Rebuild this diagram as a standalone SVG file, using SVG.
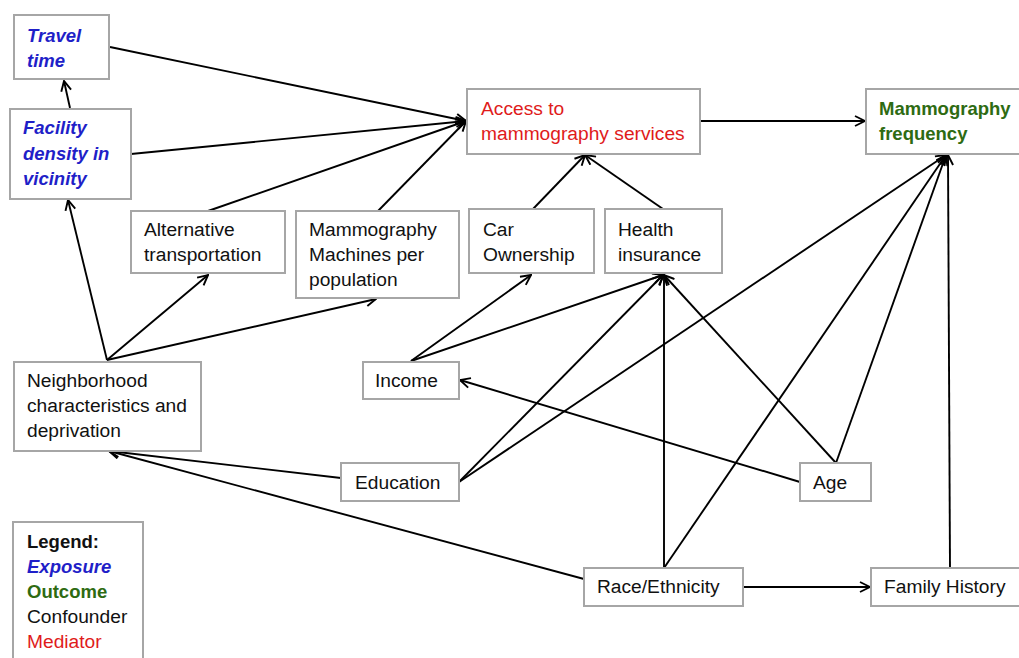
<svg xmlns="http://www.w3.org/2000/svg" width="1019" height="658" viewBox="0 0 1019 658">
<style>
.box{fill:#fff;stroke:#a6a6a6;stroke-width:2}
text{font-family:"Liberation Sans",Arial,sans-serif;font-size:19.2px;fill:#111}
.exp{fill:#1f1fc8;font-weight:bold;font-style:italic;font-size:18.5px}
.out{fill:#2e6b12;font-weight:bold;font-size:18.5px}
.med{fill:#e01b1b}
.lg{font-weight:bold;font-size:18.5px}
#edges line{stroke:#000;stroke-width:1.9;marker-end:url(#ah)}
</style>
<defs>
<marker id="ah" viewBox="0 0 12 12" refX="11" refY="6" markerWidth="12" markerHeight="12" markerUnits="userSpaceOnUse" orient="auto">
<path d="M1,1 L11,6 L1,11" fill="none" stroke="#000" stroke-width="1.9"/>
</marker>
</defs>
<rect width="1019" height="658" fill="#fff"/>
<g id="edges">
<line x1="70" y1="108" x2="64" y2="81"/>
<line x1="107" y1="360" x2="68" y2="200"/>
<line x1="110" y1="47" x2="466" y2="121"/>
<line x1="131" y1="154" x2="466" y2="121"/>
<line x1="208" y1="211" x2="466" y2="121"/>
<line x1="378" y1="211" x2="466" y2="121"/>
<line x1="107" y1="360" x2="208" y2="275"/>
<line x1="107" y1="360" x2="376" y2="299"/>
<line x1="533" y1="209" x2="585" y2="155"/>
<line x1="663" y1="209" x2="585" y2="155"/>
<line x1="700" y1="121" x2="865" y2="121"/>
<line x1="411" y1="361" x2="531" y2="275"/>
<line x1="411" y1="361" x2="663" y2="275"/>
<line x1="459" y1="482" x2="663" y2="275"/>
<line x1="459" y1="482" x2="946" y2="155"/>
<line x1="664" y1="568" x2="664" y2="275"/>
<line x1="664" y1="568" x2="946" y2="155"/>
<line x1="836" y1="463" x2="664" y2="275"/>
<line x1="836" y1="463" x2="946" y2="155"/>
<line x1="800" y1="482" x2="460" y2="380"/>
<line x1="584" y1="579" x2="109" y2="451"/>
<line x1="341" y1="478" x2="109" y2="451"/>
<line x1="743" y1="587" x2="870" y2="587"/>
<line x1="950" y1="568" x2="948" y2="155"/>
</g>
<g id="travel"><rect class="box" x="14" y="15" width="95" height="64"/><text class="exp" x="27" y="42">Travel</text><text class="exp" x="27" y="67">time</text></g>
<g id="facility"><rect class="box" x="10" y="109" width="121" height="90"/><text class="exp" x="23" y="134">Facility</text><text class="exp" x="23" y="160">density in</text><text class="exp" x="23" y="185">vicinity</text></g>
<g id="access"><rect class="box" x="467" y="89" width="233" height="65"/><text class="med" x="481" y="115">Access to</text><text class="med" x="481" y="140">mammography services</text></g>
<g id="freq"><rect class="box" x="866" y="89" width="160" height="65"/><text class="out" x="879" y="115">Mammography</text><text class="out" x="879" y="140">frequency</text></g>
<g id="alt"><rect class="box" x="131" y="211" width="154" height="62"/><text x="144" y="236">Alternative</text><text x="144" y="261">transportation</text></g>
<g id="machines"><rect class="box" x="296" y="211" width="163" height="87"/><text x="309" y="236">Mammography</text><text x="309" y="261">Machines per</text><text x="309" y="286">population</text></g>
<g id="car"><rect class="box" x="469" y="209" width="125" height="64"/><text x="483" y="236">Car</text><text x="483" y="261">Ownership</text></g>
<g id="insurance"><rect class="box" x="605" y="209" width="117" height="64"/><text x="618" y="236">Health</text><text x="618" y="261">insurance</text></g>
<g id="neighborhood"><rect class="box" x="14" y="362" width="187" height="89"/><text x="27" y="387">Neighborhood</text><text x="27" y="412">characteristics and</text><text x="27" y="437">deprivation</text></g>
<g id="income"><rect class="box" x="363" y="362" width="96" height="37"/><text x="375" y="387">Income</text></g>
<g id="education"><rect class="box" x="341" y="463" width="118" height="38"/><text x="355" y="489">Education</text></g>
<g id="age"><rect class="box" x="800" y="463" width="71" height="38"/><text x="813" y="489">Age</text></g>
<g id="race"><rect class="box" x="584" y="568" width="159" height="38"/><text x="597" y="593">Race/Ethnicity</text></g>
<g id="family"><rect class="box" x="871" y="568" width="155" height="38"/><text x="884" y="593">Family History</text></g>
<g id="legend"><rect class="box" x="13" y="522" width="130" height="146"/><text class="lg" x="27" y="548">Legend:</text><text class="exp" x="27" y="573">Exposure</text><text class="out" x="27" y="598">Outcome</text><text x="27" y="623">Confounder</text><text class="med" x="27" y="648">Mediator</text></g>
</svg>
